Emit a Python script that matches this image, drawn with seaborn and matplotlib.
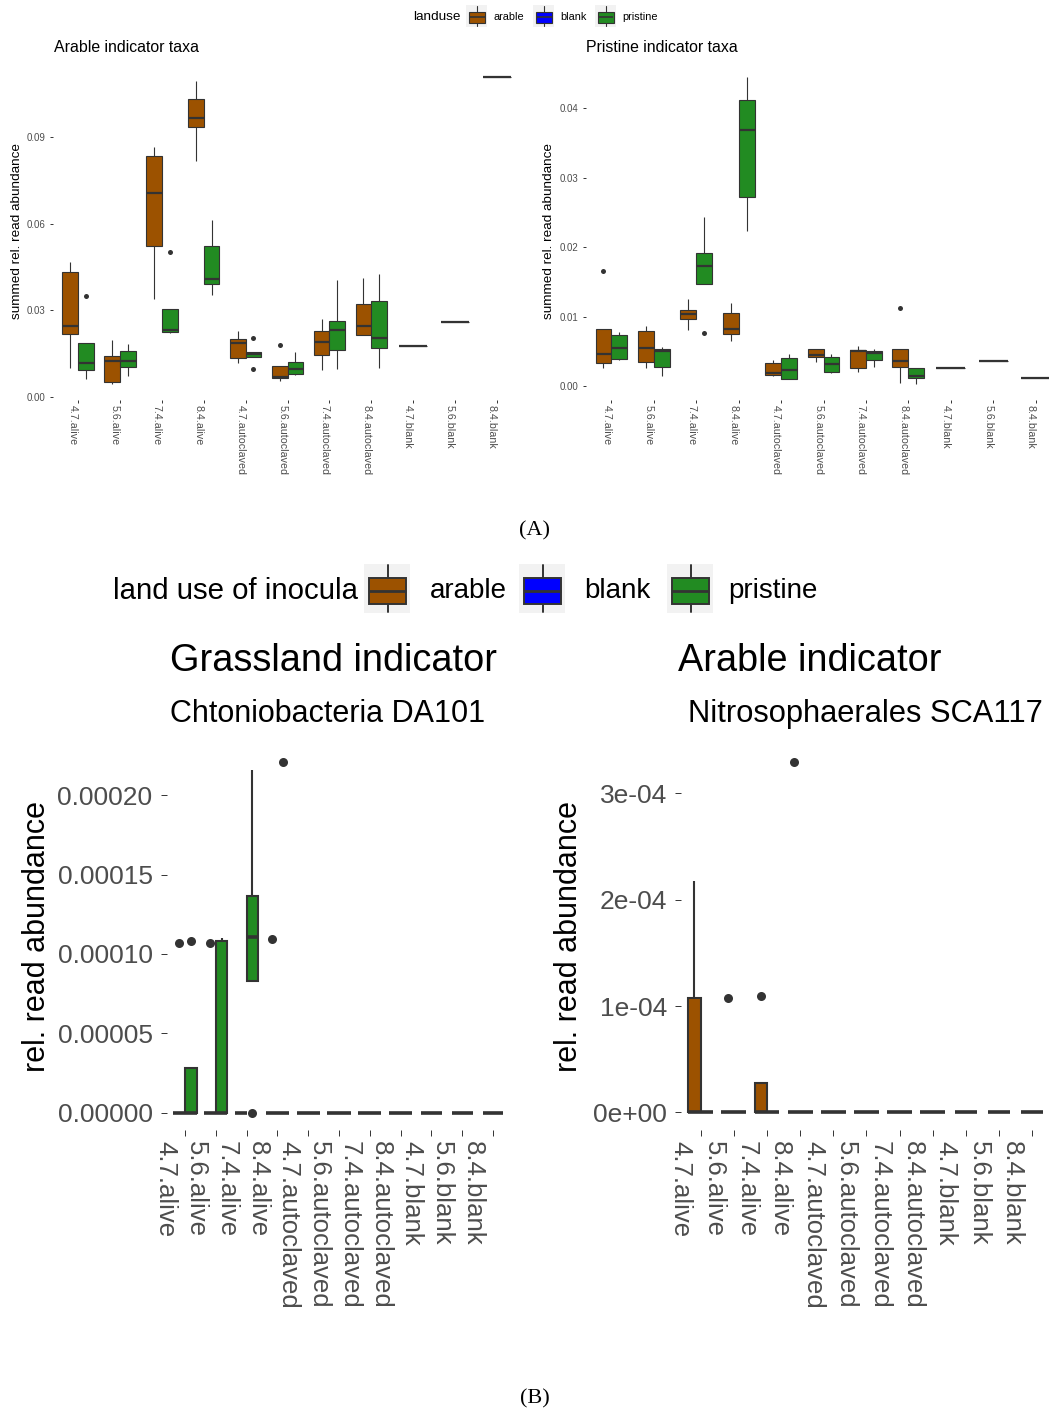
import numpy as np
import pandas as pd
import matplotlib
matplotlib.use("Agg")
import matplotlib.pyplot as plt
import seaborn as sns
from matplotlib.patches import Rectangle
from matplotlib.lines import Line2D
from matplotlib.transforms import ScaledTranslation

# ---------------- data ----------------
sample_order = ["4.7.alive", "5.6.alive", "7.4.alive", "8.4.alive",
                "4.7.autoclaved", "5.6.autoclaved", "7.4.autoclaved", "8.4.autoclaved",
                "4.7.blank", "5.6.blank", "8.4.blank"]
treated_samples = sample_order[:8]
blank_samples = sample_order[8:]
landuse_colors = {"arable": "#9C5200", "blank": "#0000FF", "pristine": "#228B22"}

# (A) left: Arable indicator taxa (summed rel. read abundance), replicate values per sample
arable_taxa_arable = [
    [0.0099, 0.0217, 0.0246, 0.0434, 0.0468],
    [0.0045, 0.0053, 0.0125, 0.0142, 0.0197],
    [0.0339, 0.0523, 0.0705, 0.0835, 0.0866],
    [0.0818, 0.0933, 0.0965, 0.1031, 0.1095],
    [0.0119, 0.0136, 0.0188, 0.0200, 0.0228],
    [0.0056, 0.0067, 0.0070, 0.0107, 0.0180],
    [0.0093, 0.0145, 0.0191, 0.0228, 0.0270],
    [0.0215, 0.0215, 0.0247, 0.0321, 0.0411],
]
arable_taxa_pristine = [
    [0.0061, 0.0093, 0.0117, 0.0186, 0.0351],
    [0.0073, 0.0103, 0.0126, 0.0159, 0.0182],
    [0.0221, 0.0224, 0.0232, 0.0304, 0.0503],
    [0.0353, 0.0392, 0.0407, 0.0524, 0.0613],
    [0.0097, 0.0137, 0.0148, 0.0155, 0.0203],
    [0.0076, 0.0080, 0.0096, 0.0120, 0.0155],
    [0.0096, 0.0162, 0.0232, 0.0262, 0.0405],
    [0.0099, 0.0169, 0.0205, 0.0333, 0.0426],
]
arable_taxa_blank = [[0.0177], [0.0259], [0.1107]]

# (A) right: Pristine indicator taxa
pristine_taxa_arable = [
    [0.00254, 0.00326, 0.00460, 0.00815, 0.01660],
    [0.00254, 0.00341, 0.00552, 0.00796, 0.00863],
    [0.00806, 0.00960, 0.01036, 0.01094, 0.01252],
    [0.00652, 0.00743, 0.00815, 0.01055, 0.01190],
    [0.00144, 0.00158, 0.00192, 0.00326, 0.00374],
    [0.00341, 0.00422, 0.00446, 0.00528, 0.00528],
    [0.00197, 0.00254, 0.00508, 0.00518, 0.00576],
    [0.00047, 0.00269, 0.00364, 0.00532, 0.01118],
]
pristine_taxa_pristine = [
    [0.00370, 0.00384, 0.00552, 0.00734, 0.00772],
    [0.00144, 0.00278, 0.00508, 0.00528, 0.00566],
    [0.00760, 0.01468, 0.01727, 0.01918, 0.02427],
    [0.02230, 0.02724, 0.03683, 0.04115, 0.04442],
    [0.00096, 0.00096, 0.00230, 0.00398, 0.00460],
    [0.00182, 0.00206, 0.00317, 0.00422, 0.00460],
    [0.00278, 0.00374, 0.00479, 0.00508, 0.00528],
    [0.00029, 0.00111, 0.00144, 0.00263, 0.00263],
]
pristine_taxa_blank = [[0.00254], [0.00364], [0.00111]]

# (B) left: Grassland indicator, Chtoniobacteria DA101 (rel. read abundance)
grass_ind_arable = [
    [0, 0, 0, 0, 0.000107],
    [0, 0, 0, 0, 0.000107],
    [0, 0, 0, 0, 0],
    [0, 0, 0, 0, 0.0001094],
    [0, 0, 0, 0, 0],
    [0, 0, 0, 0, 0],
    [0, 0, 0, 0, 0],
    [0, 0, 0, 0, 0],
]
grass_ind_pristine = [
    [0, 0, 0, 0.0000281, 0.000108],
    [0, 0, 0, 0.000108, 0.000110],
    [0, 0.0000831, 0.0001104, 0.0001367, 0.0002158],
    [0, 0, 0, 0, 0.000221],
    [0, 0, 0, 0, 0],
    [0, 0, 0, 0, 0],
    [0, 0, 0, 0, 0],
    [0, 0, 0, 0, 0],
]
grass_ind_blank = [[0], [0], [0]]

# (B) right: Arable indicator, Nitrosophaerales SCA117
arab_ind_arable = [
    [0, 0, 0, 0.0001075, 0.000218],
    [0, 0, 0, 0, 0.0001075],
    [0, 0, 0, 0.0000276, 0.0001096],
    [0, 0, 0, 0, 0.000330],
    [0, 0, 0, 0, 0],
    [0, 0, 0, 0, 0],
    [0, 0, 0, 0, 0],
    [0, 0, 0, 0, 0],
]
arab_ind_pristine = [[0, 0, 0, 0, 0] for _ in range(8)]
arab_ind_blank = [[0], [0], [0]]

# ---------------- style ----------------
sns.set_theme(style="white")
plt.rcParams["font.family"] = ["Liberation Sans", "DejaVu Sans"]
EDGE = "#333333"
TXT = "#4D4D4D"

W, H = 1049, 1414
fig = plt.figure(figsize=(W / 100, H / 100), dpi=100)
fig.patch.set_facecolor("white")


def fx(x):
    return x / W


def fy(y):
    return 1 - y / H


def add_axes_px(x0, y0, x1, y1):
    return fig.add_axes([fx(x0), fy(y1), (x1 - x0) / W, (y1 - y0) / H])


def build_frame(arable_groups, pristine_groups, blank_groups):
    rows = []
    for s, vals in zip(treated_samples, arable_groups):
        rows += [(s, "arable", v) for v in vals]
    for s, vals in zip(treated_samples, pristine_groups):
        rows += [(s, "pristine", v) for v in vals]
    for s, vals in zip(blank_samples, blank_groups):
        rows += [(s, "blank", v) for v in vals]
    return pd.DataFrame(rows, columns=["sample", "landuse", "abundance"])


def style_kws(ax, lw, median_lw, flier_size):
    return dict(x="sample", y="abundance", order=sample_order, ax=ax, saturation=1,
                linecolor=EDGE, linewidth=lw, fliersize=flier_size, showcaps=False,
                medianprops=dict(linewidth=median_lw, color=EDGE),
                flierprops=dict(marker="o", markerfacecolor=EDGE,
                                markeredgecolor=EDGE, markeredgewidth=0))


def draw_panel(ax, frame, lw, median_lw, flier_size):
    paired = frame[frame["landuse"] != "blank"]
    sns.boxplot(data=paired, hue="landuse", hue_order=["arable", "pristine"],
                palette=landuse_colors, dodge=True, width=0.75, legend=False,
                **style_kws(ax, lw, median_lw, flier_size))
    blanks = frame[frame["landuse"] == "blank"]
    sns.boxplot(data=blanks, color=landuse_colors["blank"], width=0.68,
                **style_kws(ax, lw, median_lw, flier_size))
    ax.set_xlim(-0.6, 10.6)
    ax.set_xlabel("")
    ax.set_ylabel("")
    for sp in ax.spines.values():
        sp.set_visible(False)
    ax.grid(False)
    ax.set_facecolor("white")


def finish_ticks(ax, yticks, ylabels, fs_x, fs_y, tick_len, pad_x, pad_y, x_shift_px):
    ax.set_yticks(yticks)
    ax.set_yticklabels(ylabels)
    ax.set_xticks(range(len(sample_order)))
    ax.set_xticklabels(sample_order, rotation=270, ha="right", va="top")
    ax.tick_params(axis="x", length=tick_len, width=0.7, color=EDGE, labelcolor=TXT,
                   labelsize=fs_x, pad=pad_x, bottom=True)
    ax.tick_params(axis="y", length=tick_len, width=0.7, color=EDGE, labelcolor=TXT,
                   labelsize=fs_y, pad=pad_y, left=True)
    if x_shift_px:
        off = ScaledTranslation(x_shift_px / 100, 0, fig.dpi_scale_trans)
        for lab in ax.get_xticklabels():
            lab.set_transform(lab.get_transform() + off)


# ---------------- (A) top panels ----------------
ax1 = add_axes_px(53, 62, 522, 400)
draw_panel(ax1, build_frame(arable_taxa_arable, arable_taxa_pristine, arable_taxa_blank), 0.8, 1.6, 3.6)
ax1.set_ylim(-0.00104, 0.11596)
finish_ticks(ax1, [0, 0.03, 0.06, 0.09], ["0.00", "0.03", "0.06", "0.09"], 7.7, 7.0, 2.3, 1.0, 3.3, 0)

ax2 = add_axes_px(586, 62, 1061, 400)
draw_panel(ax2, build_frame(pristine_taxa_arable, pristine_taxa_pristine, pristine_taxa_blank), 0.8, 1.6, 3.6)
ax2.set_ylim(-0.002014, 0.04662)
finish_ticks(ax2, [0, 0.01, 0.02, 0.03, 0.04], ["0.00", "0.01", "0.02", "0.03", "0.04"], 7.7, 7.0, 2.3, 1.0, 3.3, 0)

fig.text(fx(54), fy(47), "Arable indicator taxa", fontsize=11.4, color="black", ha="left", va="center")
fig.text(fx(586), fy(47), "Pristine indicator taxa", fontsize=11.4, color="black", ha="left", va="center")
fig.text(fx(17), fy(231), "summed rel. read abundance", fontsize=9.7, rotation=90, ha="center", va="center", color="black")
fig.text(fx(549), fy(231), "summed rel. read abundance", fontsize=9.7, rotation=90, ha="center", va="center", color="black")

# ---------------- (B) bottom panels ----------------
ax3 = add_axes_px(166.5, 744, 511.5, 1130)
draw_panel(ax3, build_frame(grass_ind_arable, grass_ind_pristine, grass_ind_blank), 1.5, 2.6, 6.5)
ax3.set_ylim(-1.09e-5, 2.322e-4)
finish_ticks(ax3, [0, 5e-5, 1e-4, 1.5e-4, 2e-4],
             ["0.00000", "0.00005", "0.00010", "0.00015", "0.00020"], 18.5, 19, 4.5, 3.5, 5.5, -8)

ax4 = add_axes_px(680.8, 744, 1052, 1130)
draw_panel(ax4, build_frame(arab_ind_arable, arab_ind_pristine, arab_ind_blank), 1.5, 2.6, 6.5)
ax4.set_ylim(-1.65e-5, 3.465e-4)
finish_ticks(ax4, [0, 1e-4, 2e-4, 3e-4], ["0e+00", "1e-04", "2e-04", "3e-04"], 18.5, 19, 4.5, 3.5, 5.5, -8)

fig.text(fx(170), fy(661), "Grassland indicator", fontsize=27.3, color="black", ha="left", va="center")
fig.text(fx(170), fy(714), "Chtoniobacteria DA101", fontsize=22, color="black", ha="left", va="center")
fig.text(fx(678), fy(661), "Arable indicator", fontsize=27.3, color="black", ha="left", va="center")
fig.text(fx(688), fy(714), "Nitrosophaerales SCA117", fontsize=22.2, color="black", ha="left", va="center")
fig.text(fx(37), fy(937), "rel. read abundance", fontsize=22, rotation=90, ha="center", va="center", color="black")
fig.text(fx(569), fy(937), "rel. read abundance", fontsize=22, rotation=90, ha="center", va="center", color="black")


# ---------------- legends ----------------
def legend_key(bg, box, color, lw, median_lw):
    x0, y0, x1, y1 = bg
    fig.add_artist(Rectangle((fx(x0), fy(y1)), (x1 - x0) / W, (y1 - y0) / H,
                             transform=fig.transFigure, facecolor="#F2F2F2", edgecolor="none"))
    bx0, by0, bx1, by1 = box
    cx = (bx0 + bx1) / 2
    fig.add_artist(Line2D([fx(cx), fx(cx)], [fy(y0 + 1), fy(by0)], transform=fig.transFigure,
                          color=EDGE, lw=lw))
    fig.add_artist(Line2D([fx(cx), fx(cx)], [fy(by1), fy(y1 - 1)], transform=fig.transFigure,
                          color=EDGE, lw=lw))
    fig.add_artist(Rectangle((fx(bx0), fy(by1)), (bx1 - bx0) / W, (by1 - by0) / H,
                             transform=fig.transFigure, facecolor=color, edgecolor=EDGE, lw=lw))
    my = (by0 + by1) / 2
    fig.add_artist(Line2D([fx(bx0), fx(bx1)], [fy(my), fy(my)], transform=fig.transFigure,
                          color=EDGE, lw=median_lw, solid_capstyle="butt"))


legend_levels = ["arable", "blank", "pristine"]

# top legend
fig.text(fx(412.7), fy(17), "landuse", fontsize=9.7, color="black", ha="left", va="center")
for lvl, kx, tx in zip(legend_levels, [466, 533, 595], [493, 560, 622.7]):
    legend_key((kx, 5, kx + 21, 27), (kx + 2.5, 12, kx + 18.5, 22.5), landuse_colors[lvl], 0.8, 1.2)
    fig.text(fx(tx), fy(17), lvl, fontsize=7.8, color="black", ha="left", va="center")

# bottom legend
fig.text(fx(113), fy(591), "land use of inocula", fontsize=21.2, color="black", ha="left", va="center")
for lvl, kx, tx in zip(legend_levels, [364, 519, 667], [430, 584, 728]):
    legend_key((kx, 564, kx + 46, 613), (kx + 5, 578, kx + 42, 604), landuse_colors[lvl], 1.4, 2.0)
    fig.text(fx(tx), fy(591), lvl, fontsize=20, color="black", ha="left", va="center")

# captions
fig.text(fx(535), fy(531), "(A)", fontsize=16, family=["Liberation Serif", "DejaVu Serif"],
         ha="center", va="center", color="black")
fig.text(fx(535), fy(1399), "(B)", fontsize=16, family=["Liberation Serif", "DejaVu Serif"],
         ha="center", va="center", color="black")

fig.savefig("out.png", dpi=100, facecolor="white")
